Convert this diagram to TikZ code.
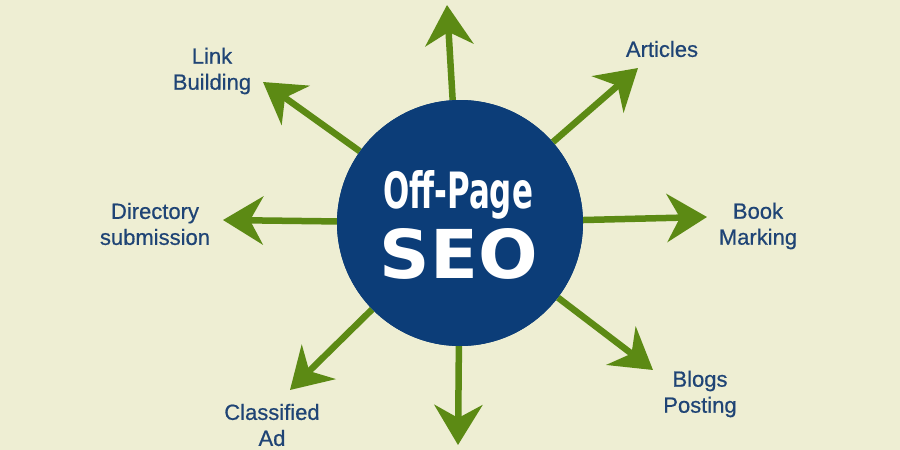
\documentclass[tikz,border=0pt]{standalone}
\usepackage{fontspec}
\setmainfont{Liberation Sans}
\newfontfamily\lblfont[FakeBold=0.6]{Liberation Sans}
\newfontfamily\seofont{DejaVu Sans}
\usetikzlibrary{arrows.meta}
\definecolor{bgc}{HTML}{EEEED3}
\definecolor{navy}{HTML}{0C3D78}
\definecolor{leaf}{HTML}{5C8A14}
\definecolor{txt}{HTML}{1F4475}
\tikzset{
  arr/.style={draw=leaf, line width=6.5pt, -{Stealth[length=40pt, width=48pt, inset=13pt]}},
  lbl/.style={text=txt, font=\lblfont\fontsize{22}{26}\selectfont, align=center, inner sep=0pt}
}
\begin{document}
\begin{tikzpicture}[x=1pt, y=-1pt]
\fill[bgc] (0,0) rectangle (900,450);
\useasboundingbox (0,0) rectangle (900,450);
% tips
\coordinate (tN)  at (447,5);
\coordinate (tNE) at (638,68);
\coordinate (tE)  at (707,217);
\coordinate (tSE) at (653,370);
\coordinate (tS)  at (458,445);
\coordinate (tSW) at (290,390);
\coordinate (tW)  at (223,220);
\coordinate (tNW) at (263,82);
\node[circle, fill=navy, minimum size=246pt, inner sep=0pt] (c) at (460,223) {};
\foreach \t in {tN,tNE,tE,tSE,tS,tSW,tW,tNW}
  \draw[arr] (c) -- (\t);
\node[circle, fill=navy, minimum size=246pt, inner sep=0pt] (cc) at (460,223) {};
\node[anchor=base, text=white, inner sep=0pt] (off) at (458,208)
  {\resizebox{150pt}{38pt}{\seofont\bfseries Off-Page}};
\node[anchor=base, text=white, inner sep=0pt] (seo) at (459,278)
  {\resizebox{158pt}{50pt}{\seofont\bfseries SEO}};
% labels
\node[lbl] (lb) at (212,71) {Link\\Building};
\node[lbl] (ar) at (662,49) {Articles};
\node[lbl] (bm) at (758,226) {Book\\Marking};
\node[lbl] (bp) at (700,394) {Blogs\\Posting};
\node[lbl] (ca) at (272,425) {Classified\\Ad};
\node[lbl] (ds) at (155,224) {Directory\\submission};
\end{tikzpicture}
\end{document}
